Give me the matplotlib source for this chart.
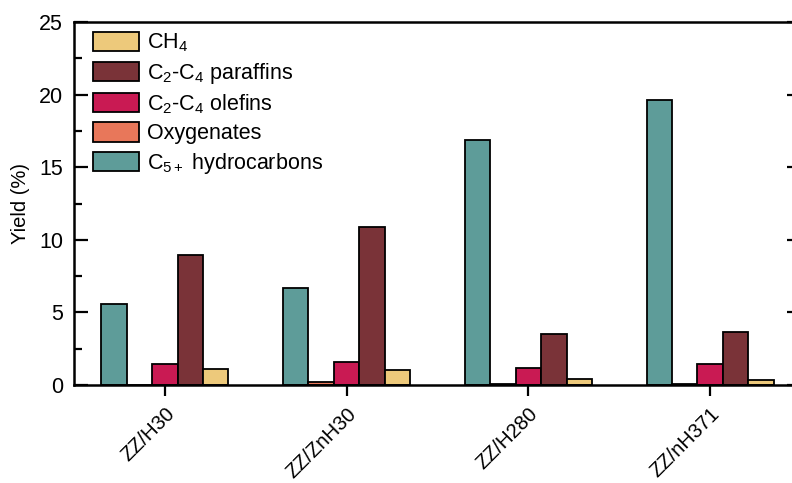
import numpy as np
import matplotlib
matplotlib.use("Agg")
from matplotlib import pyplot as plt
from matplotlib import transforms
from matplotlib.ticker import MultipleLocator

plt.rcParams["font.family"] = ["Liberation Sans", "DejaVu Sans"]
plt.rcParams["mathtext.fontset"] = "custom"
plt.rcParams["mathtext.rm"] = "Liberation Sans"
plt.rcParams["mathtext.it"] = "Liberation Sans"

catalysts = ["ZZ/H30", "ZZ/ZnH30", "ZZ/H280", "ZZ/nH371"]
c5_plus = [5.6, 6.7, 16.9, 19.6]
oxygenates = [0.03, 0.2, 0.05, 0.1]
olefins = [1.48, 1.55, 1.2, 1.48]
paraffins = [8.95, 10.88, 3.5, 3.65]
ch4 = [1.07, 1.0, 0.38, 0.35]

series = [
    (c5_plus, r"C$_{5+}$ hydrocarbons", "#5E9C99"),
    (oxygenates, "Oxygenates", "#E8775A"),
    (olefins, r"C$_2$-C$_4$ olefins", "#C91A53"),
    (paraffins, r"C$_2$-C$_4$ paraffins", "#7A3338"),
    (ch4, r"CH$_4$", "#EDC97B"),
]

fig = plt.figure(figsize=(7.92, 4.83), dpi=100)
ax = fig.add_axes([74 / 792, 98 / 483, 727 / 792, 363 / 483])

x = np.arange(len(catalysts))
w = 0.14
handles = []
for i, (vals, label, color) in enumerate(series):
    b = ax.bar(x + (i - 2) * w, vals, w, color=color, edgecolor="black",
               linewidth=1.3, label=label, zorder=2)
    handles.append(b)

ax.set_xlim(-0.5, 3.5)
ax.set_ylim(0, 25)
ax.yaxis.set_major_locator(MultipleLocator(5))
ax.yaxis.set_minor_locator(MultipleLocator(2.5))
ax.set_xticks(x)
ax.set_xticklabels(catalysts, rotation=45, ha="right", rotation_mode="anchor",
                   fontsize=14.5)
# nudge rotated labels so their end sits right of the tick, like the original
off = transforms.ScaledTranslation(12 / 100, -5 / 100, fig.dpi_scale_trans)
for lab in ax.get_xticklabels():
    lab.set_transform(lab.get_transform() + off)

ax.tick_params(axis="y", which="both", direction="in", right=True,
               labelsize=15.5, width=1.6, pad=8)
ax.tick_params(axis="y", which="major", length=10)
ax.tick_params(axis="y", which="minor", length=6)
ax.tick_params(axis="x", direction="out", length=8, width=1.6, pad=6)
for s in ax.spines.values():
    s.set_linewidth(1.8)
ax.set_ylabel("Yield (%)", fontsize=14.5, labelpad=6)

ax.legend(handles[::-1], [h.get_label() for h in handles[::-1]],
          loc="upper left", frameon=False, fontsize=15.5,
          handlelength=2.15, handleheight=1.0, labelspacing=0.3,
          borderaxespad=0.0, handletextpad=0.38,
          bbox_to_anchor=(0.0143, 0.997))

fig.savefig("out.png", dpi=100)
